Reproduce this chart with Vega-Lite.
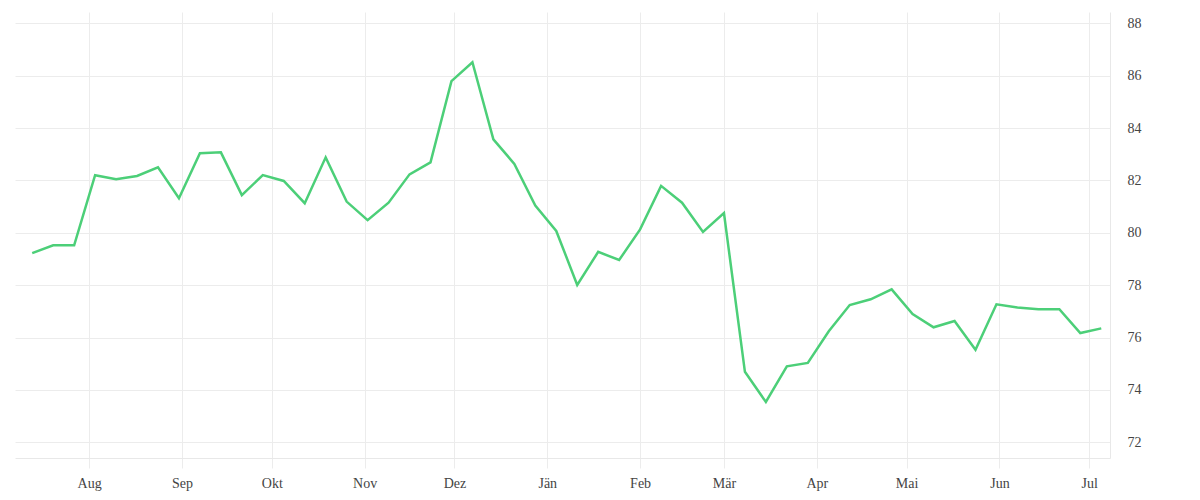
{
  "$schema": "https://vega.github.io/schema/vega-lite/v6.json",
  "autosize": "none",
  "width": 1095,
  "height": 446,
  "padding": {"left": 15, "top": 12, "right": 90, "bottom": 42},
  "background": "#ffffff",
  "config": {"view": {"stroke": null}},
  "data": {"values": [
    {"date": "2022-07-13", "value": 79.22},
    {"date": "2022-07-20", "value": 79.52},
    {"date": "2022-07-27", "value": 79.52},
    {"date": "2022-08-03", "value": 82.20},
    {"date": "2022-08-10", "value": 82.04},
    {"date": "2022-08-17", "value": 82.17},
    {"date": "2022-08-24", "value": 82.50},
    {"date": "2022-08-31", "value": 81.32},
    {"date": "2022-09-07", "value": 83.04},
    {"date": "2022-09-14", "value": 83.07},
    {"date": "2022-09-21", "value": 81.44},
    {"date": "2022-09-28", "value": 82.20},
    {"date": "2022-10-05", "value": 81.98},
    {"date": "2022-10-12", "value": 81.13},
    {"date": "2022-10-19", "value": 82.88},
    {"date": "2022-10-26", "value": 81.19},
    {"date": "2022-11-02", "value": 80.48},
    {"date": "2022-11-09", "value": 81.15},
    {"date": "2022-11-16", "value": 82.23},
    {"date": "2022-11-23", "value": 82.69},
    {"date": "2022-11-30", "value": 85.79},
    {"date": "2022-12-07", "value": 86.51},
    {"date": "2022-12-14", "value": 83.57},
    {"date": "2022-12-21", "value": 82.63},
    {"date": "2022-12-28", "value": 81.04},
    {"date": "2023-01-04", "value": 80.07},
    {"date": "2023-01-11", "value": 78.01},
    {"date": "2023-01-18", "value": 79.27},
    {"date": "2023-01-25", "value": 78.96},
    {"date": "2023-02-01", "value": 80.13},
    {"date": "2023-02-08", "value": 81.79},
    {"date": "2023-02-15", "value": 81.15},
    {"date": "2023-02-22", "value": 80.03},
    {"date": "2023-03-01", "value": 80.75},
    {"date": "2023-03-08", "value": 74.69},
    {"date": "2023-03-15", "value": 73.54},
    {"date": "2023-03-22", "value": 74.90},
    {"date": "2023-03-29", "value": 75.03},
    {"date": "2023-04-05", "value": 76.24},
    {"date": "2023-04-12", "value": 77.24},
    {"date": "2023-04-19", "value": 77.46},
    {"date": "2023-04-26", "value": 77.84},
    {"date": "2023-05-03", "value": 76.90},
    {"date": "2023-05-10", "value": 76.39},
    {"date": "2023-05-17", "value": 76.63},
    {"date": "2023-05-24", "value": 75.53},
    {"date": "2023-05-31", "value": 77.27},
    {"date": "2023-06-07", "value": 77.15},
    {"date": "2023-06-14", "value": 77.08},
    {"date": "2023-06-21", "value": 77.08},
    {"date": "2023-06-28", "value": 76.17},
    {"date": "2023-07-05", "value": 76.35}
  ]},
  "mark": {"type": "line", "color": "#4ccf78", "strokeWidth": 2.5, "strokeJoin": "miter", "clip": true},
  "encoding": {
    "x": {
      "field": "date",
      "type": "temporal",
      "scale": {
        "type": "utc",
        "domain": [
          {"year": 2022, "month": 7, "date": 7, "hours": 6, "utc": true},
          {"year": 2023, "month": 7, "date": 7, "hours": 22, "utc": true}
        ]
      },
      "axis": {
        "title": null,
        "orient": "bottom",
        "tickCount": {"interval": "month", "step": 1},
        "labelExpr": "['Jän','Feb','Mär','Apr','Mai','Jun','Jul','Aug','Sep','Okt','Nov','Dez'][utcmonth(datum.value)]",
        "grid": true,
        "gridColor": "#ececec",
        "gridWidth": 1,
        "domain": true,
        "domainColor": "#e8e8e8",
        "domainWidth": 1,
        "ticks": true,
        "tickSize": 10,
        "tickColor": "#ececec",
        "tickWidth": 1,
        "labelFont": "Liberation Serif",
        "labelFontSize": 14,
        "labelColor": "#444444",
        "labelPadding": 8,
        "labelFlush": false,
        "labelOverlap": false
      }
    },
    "y": {
      "field": "value",
      "type": "quantitative",
      "scale": {"domain": [71.4, 88.43], "nice": false, "zero": false},
      "axis": {
        "title": null,
        "orient": "right",
        "values": [72, 74, 76, 78, 80, 82, 84, 86, 88],
        "grid": true,
        "gridColor": "#ececec",
        "gridWidth": 1,
        "domain": true,
        "domainColor": "#e8e8e8",
        "domainWidth": 1,
        "ticks": false,
        "labelFont": "Liberation Serif",
        "labelFontSize": 14,
        "labelColor": "#444444",
        "labelPadding": 17,
        "labelAlign": "left",
        "labelBaseline": "middle"
      }
    }
  }
}
